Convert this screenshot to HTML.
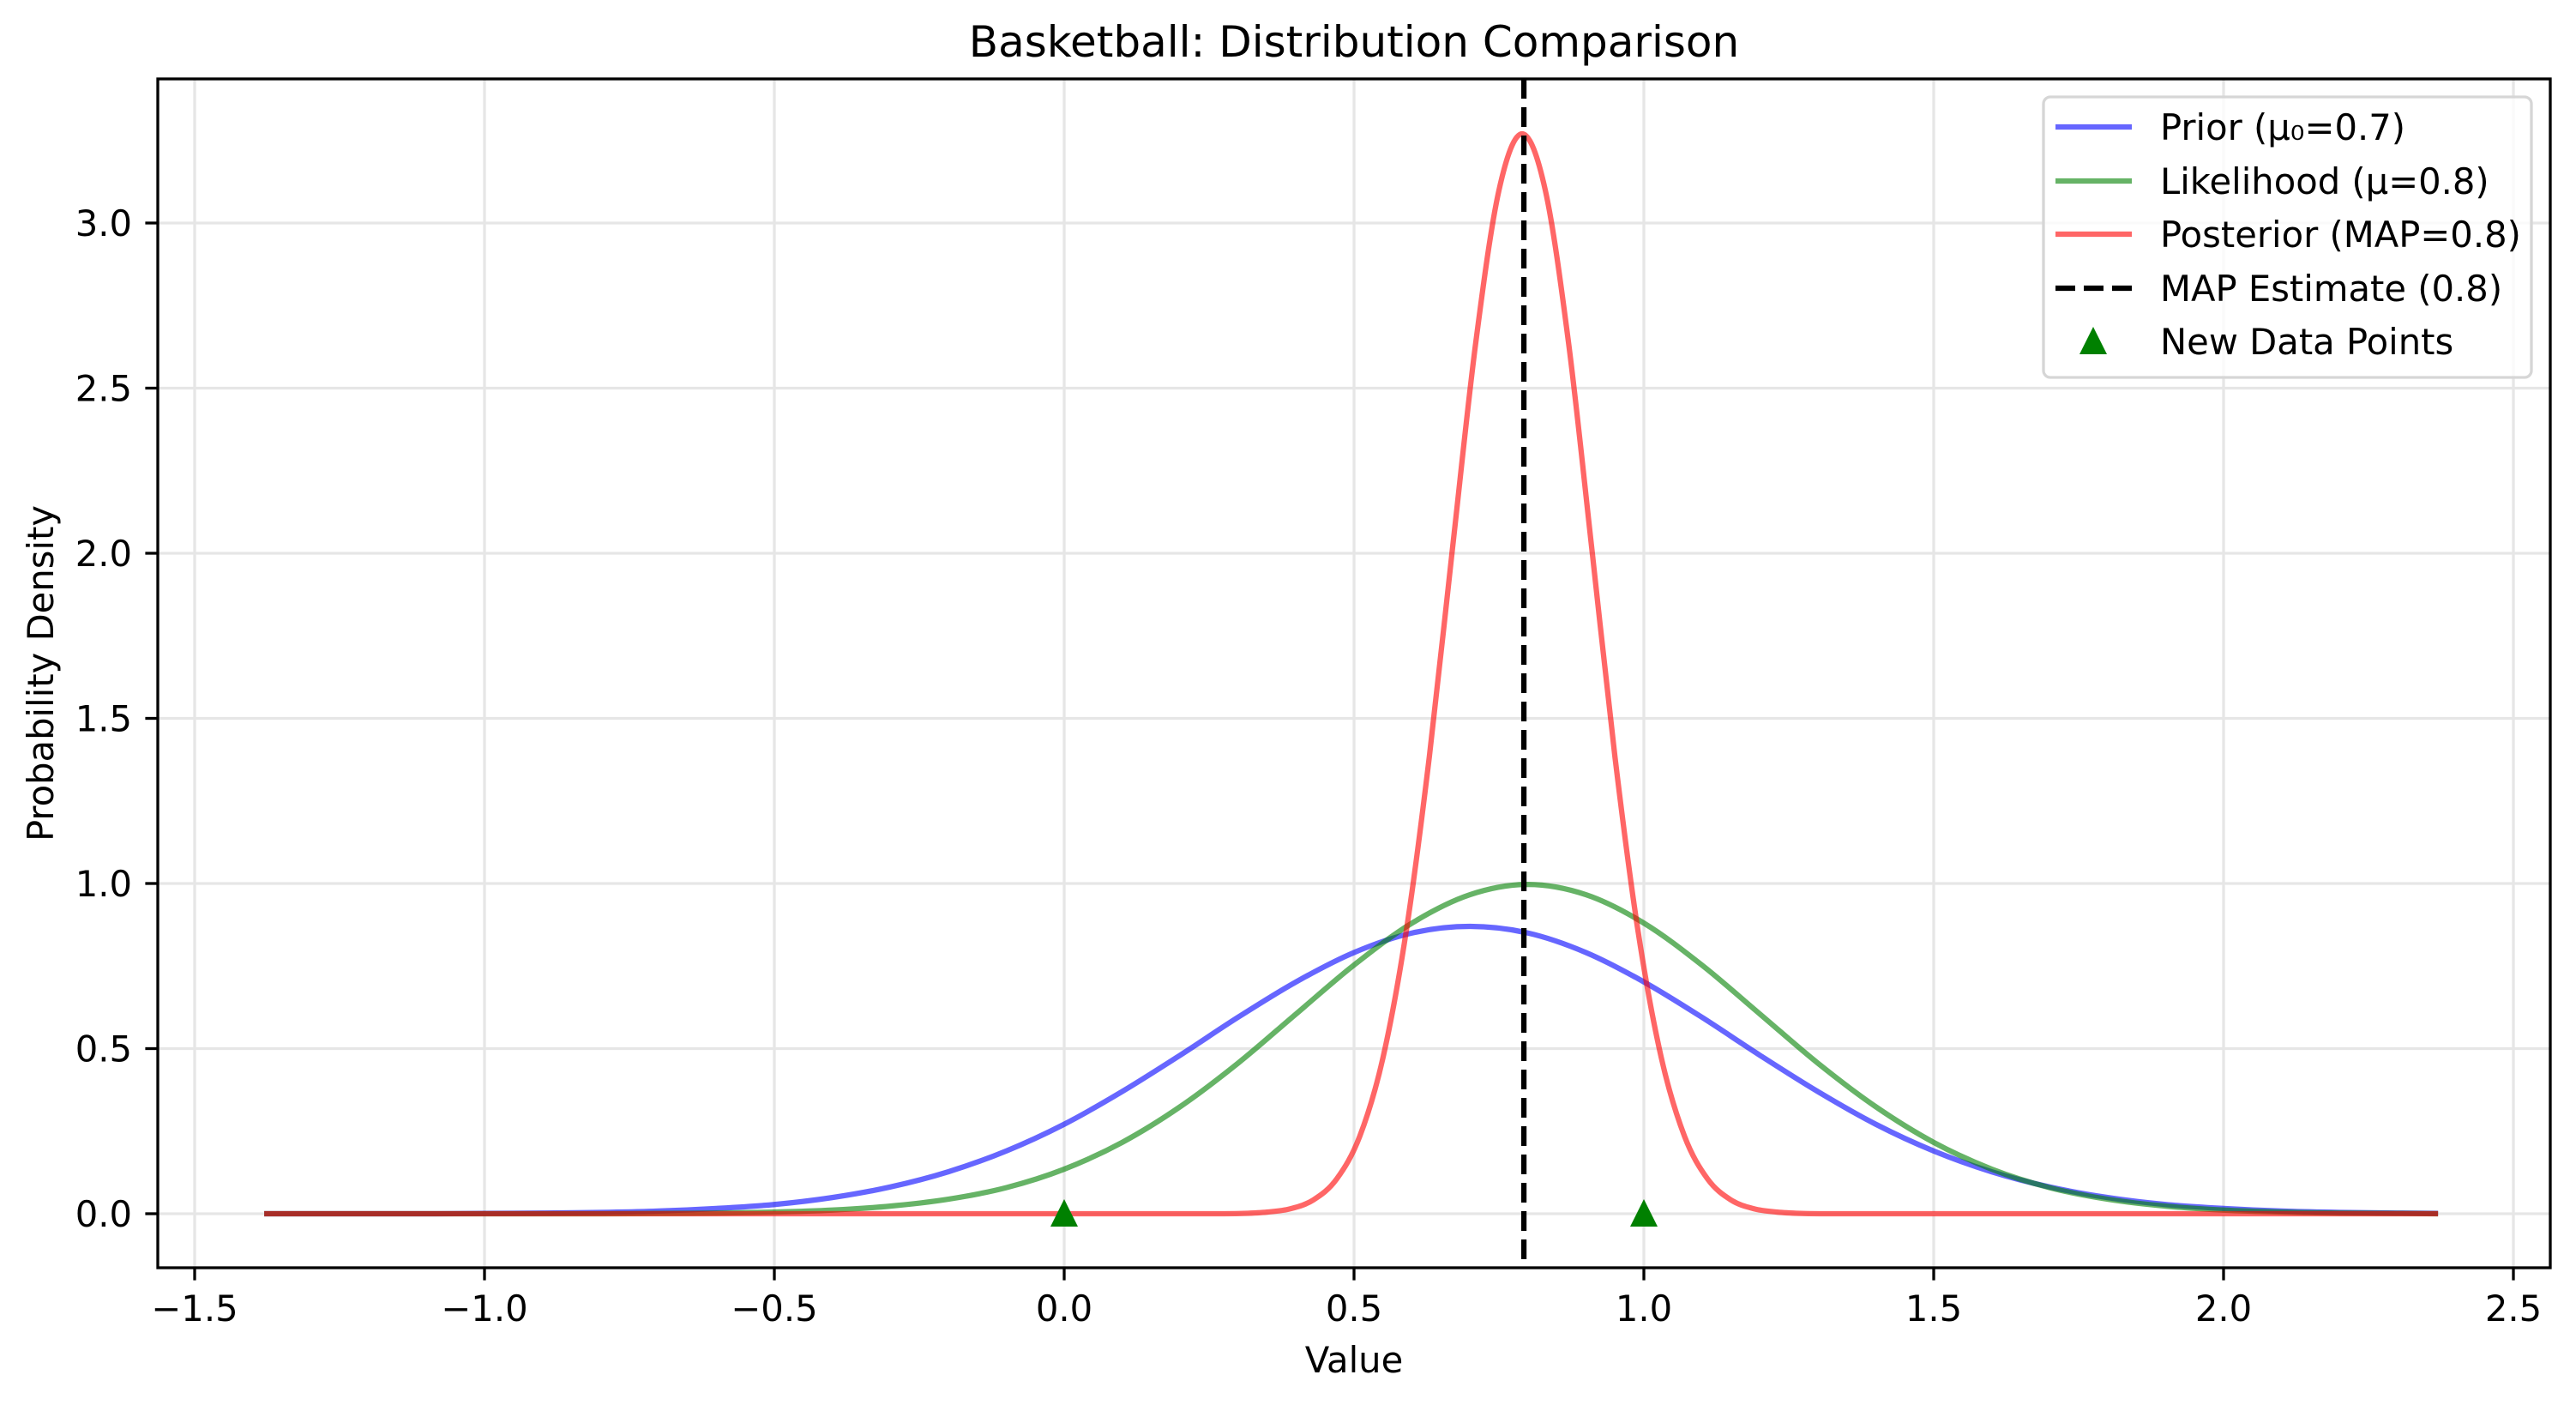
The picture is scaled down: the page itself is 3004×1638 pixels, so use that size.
<!DOCTYPE html>
<html>
<head>
<meta charset="utf-8">
<style>
  html,body{margin:0;padding:0;background:#fff;}
  svg{display:block;font-family:"DejaVu Sans","Liberation Sans",sans-serif;}
</style>
</head>
<body>
<svg id="chart" width="3004" height="1638" viewBox="0 0 3004 1638" xmlns="http://www.w3.org/2000/svg">
  <rect x="0" y="0" width="3004" height="1638" fill="#ffffff"/>
  <g id="grid"></g>
  <g id="series"></g>
  <g id="axes"></g>
  <text x="1579" y="66" font-size="50" text-anchor="middle" fill="#000">Basketball: Distribution Comparison</text>
  <text x="1579" y="1600" font-size="41.7" text-anchor="middle" fill="#000">Value</text>
  <text x="0" y="0" font-size="41.7" text-anchor="middle" fill="#000" transform="translate(62,785) rotate(-90)">Probability Density</text>
  <g id="legend"></g>
</svg>
<script>
// ---- data ----
const xTicks = [-1.5, -1.0, -0.5, 0.0, 0.5, 1.0, 1.5, 2.0, 2.5];
const xTickLabels = ["\u22121.5", "\u22121.0", "\u22120.5", "0.0", "0.5", "1.0", "1.5", "2.0", "2.5"];
const yTicks = [0.0, 0.5, 1.0, 1.5, 2.0, 2.5, 3.0];
const yTickLabels = ["0.0", "0.5", "1.0", "1.5", "2.0", "2.5", "3.0"];

const wideX = [-1.38, -1.3, -1.2, -1.1, -1.0, -0.9, -0.8, -0.7, -0.6, -0.5, -0.4, -0.3, -0.2, -0.1, 0.0, 0.1, 0.2, 0.3, 0.4, 0.5, 0.6, 0.7, 0.8, 0.9, 1.0, 1.1, 1.2, 1.3, 1.4, 1.5, 1.6, 1.7, 1.8, 1.9, 2.0, 2.1, 2.2, 2.3, 2.37];
const priorY = [0.000, 0.000, 0.000, 0.000, 0.001, 0.002, 0.004, 0.008, 0.016, 0.028, 0.049, 0.081, 0.127, 0.190, 0.271, 0.370, 0.480, 0.595, 0.702, 0.791, 0.850, 0.870, 0.850, 0.791, 0.702, 0.595, 0.480, 0.370, 0.271, 0.190, 0.127, 0.081, 0.049, 0.028, 0.016, 0.008, 0.004, 0.002, 0.001];
const likelihoodY = [0.000, 0.000, 0.000, 0.000, 0.000, 0.000, 0.000, 0.001, 0.002, 0.005, 0.011, 0.023, 0.044, 0.079, 0.135, 0.216, 0.324, 0.456, 0.605, 0.753, 0.880, 0.966, 0.997, 0.966, 0.880, 0.753, 0.605, 0.456, 0.324, 0.216, 0.135, 0.079, 0.044, 0.023, 0.011, 0.005, 0.002, 0.001, 0.000];

const postX = [-1.38, 0.15, 0.23, 0.27, 0.31, 0.35, 0.39, 0.43, 0.47, 0.51, 0.55, 0.59, 0.63, 0.67, 0.71, 0.75, 0.79, 0.83, 0.87, 0.91, 0.95, 0.99, 1.03, 1.07, 1.11, 1.15, 1.19, 1.23, 1.27, 1.31, 1.35, 1.43, 2.37];
const posteriorY = [0.000, 0.000, 0.000, 0.000, 0.001, 0.005, 0.015, 0.042, 0.105, 0.235, 0.473, 0.855, 1.385, 2.017, 2.638, 3.099, 3.270, 3.099, 2.638, 2.017, 1.385, 0.855, 0.473, 0.235, 0.105, 0.042, 0.015, 0.005, 0.001, 0.000, 0.000, 0.000, 0.000];

const mapEstimate = [0.793];
const newDataX = [0.0, 1.0];
const newDataY = [0.0, 0.0];

// ---- layout ----
const L = 184, R = 2974, T = 92, B = 1478;
const X0 = 1241, XS = 676;
const Y0 = 1415, YS = 385;
function sx(v){ return X0 + XS * v; }
function sy(v){ return Y0 - YS * v; }
const NS = "http://www.w3.org/2000/svg";
function mk(tag, attrs, parent){
  const e = document.createElementNS(NS, tag);
  for (const k in attrs) e.setAttribute(k, attrs[k]);
  parent.appendChild(e);
  return e;
}
const gGrid = document.getElementById('grid');
const gSeries = document.getElementById('series');
const gAxes = document.getElementById('axes');
const gLeg = document.getElementById('legend');
const LW = 6.25;

xTicks.forEach((t) => {
  const ln = mk('line', {x1: sx(t), x2: sx(t), y1: T, y2: B, stroke: '#e6e6e6', 'stroke-width': 3.3}, gGrid);
  
  
});
yTicks.forEach((t) => {
  const ln = mk('line', {x1: L, x2: R, y1: sy(t), y2: sy(t), stroke: '#e6e6e6', 'stroke-width': 3.3}, gGrid);
  
  
});

function smoothPath(xs, ys){
  const p = xs.map((x, i) => [sx(x), sy(ys[i])]);
  let d = 'M' + p[0][0].toFixed(2) + ',' + p[0][1].toFixed(2);
  for (let i = 0; i < p.length - 1; i++){
    const p0 = p[Math.max(0, i - 1)], p1 = p[i], p2 = p[i + 1], p3 = p[Math.min(p.length - 1, i + 2)];
    const c1x = p1[0] + (p2[0] - p0[0]) / 6, c1y = p1[1] + (p2[1] - p0[1]) / 6;
    const c2x = p2[0] - (p3[0] - p1[0]) / 6, c2y = p2[1] - (p3[1] - p1[1]) / 6;
    d += ' C' + c1x.toFixed(2) + ',' + Math.min(c1y, Y0).toFixed(2) + ' ' + c2x.toFixed(2) + ',' + Math.min(c2y, Y0).toFixed(2) + ' ' + p2[0].toFixed(2) + ',' + p2[1].toFixed(2);
  }
  return d;
}
const prior = mk('path', {d: smoothPath(wideX, priorY), fill: 'none', stroke: '#0000ff', 'stroke-opacity': 0.6, 'stroke-width': LW, 'stroke-linejoin': 'round'}, gSeries);


const like = mk('path', {d: smoothPath(wideX, likelihoodY), fill: 'none', stroke: '#008000', 'stroke-opacity': 0.6, 'stroke-width': LW, 'stroke-linejoin': 'round'}, gSeries);


const post = mk('path', {d: smoothPath(postX, posteriorY), fill: 'none', stroke: '#ff0000', 'stroke-opacity': 0.6, 'stroke-width': LW, 'stroke-linejoin': 'round'}, gSeries);



const mapLine = mk('line', {x1: sx(mapEstimate[0]), x2: sx(mapEstimate[0]), y1: T, y2: B, stroke: '#000', 'stroke-width': LW, 'stroke-dasharray': '23 10'}, gSeries);



newDataX.forEach((x, i) => {
  const cx = sx(x), cy = sy(newDataY[i]);
  const tri = mk('polygon', {points: (cx) + ',' + (cy - 17) + ' ' + (cx - 16) + ',' + (cy + 15) + ' ' + (cx + 16) + ',' + (cy + 15), fill: '#008000'}, gSeries);
  
  
});

const frame = mk('rect', {x: L, y: T, width: R - L, height: B - T, fill: 'none', stroke: '#000', 'stroke-width': 3.3}, gAxes);


xTicks.forEach((t, i) => {
  const tk = mk('line', {x1: sx(t), x2: sx(t), y1: B, y2: B + 14.6, stroke: '#000', 'stroke-width': 3.3}, gAxes);
  
  
  const lb = mk('text', {x: sx(t), y: B + 62, 'font-size': 41.7, 'text-anchor': 'middle', fill: '#000'}, gAxes);
  lb.textContent = xTickLabels[i];
  
  
});
yTicks.forEach((t, i) => {
  const tk = mk('line', {x1: L - 14.6, x2: L, y1: sy(t), y2: sy(t), stroke: '#000', 'stroke-width': 3.3}, gAxes);
  
  
  const lb = mk('text', {x: L - 30, y: sy(t) + 15, 'font-size': 41.7, 'text-anchor': 'end', fill: '#000'}, gAxes);
  lb.textContent = yTickLabels[i];
  
  
});

const legBox = mk('rect', {x: 2383, y: 113, width: 569, height: 327, rx: 8, fill: '#fff', 'fill-opacity': 0.8, stroke: '#d6d6d6', 'stroke-width': 3.3}, gLeg);


const legLabels = ["Prior (\u03bc\u2080=0.7)", "Likelihood (\u03bc=0.8)", "Posterior (MAP=0.8)", "MAP Estimate (0.8)", "New Data Points"];
const legYs = [148, 211, 273, 336, 398];
const legColors = ['#0000ff', '#008000', '#ff0000', '#000000'];
legLabels.forEach((lab, i) => {
  const y = legYs[i];
  if (i < 4){
    const attrs = {x1: 2397, x2: 2486, y1: y, y2: y, stroke: legColors[i], 'stroke-width': LW};
    if (i < 3) attrs['stroke-opacity'] = 0.6;
    if (i === 3) attrs['stroke-dasharray'] = '23 10';
    const ln = mk('line', attrs, gLeg);
    
    
  } else {
    const tri = mk('polygon', {points: '2441,' + (y - 17) + ' 2425,' + (y + 15) + ' 2457,' + (y + 15), fill: '#008000'}, gLeg);
    
    
  }
  const tx = mk('text', {x: 2519, y: y + 15, 'font-size': 41.7, fill: '#000'}, gLeg);
  tx.textContent = lab;
  
  
});
</script>
</body>
</html>
